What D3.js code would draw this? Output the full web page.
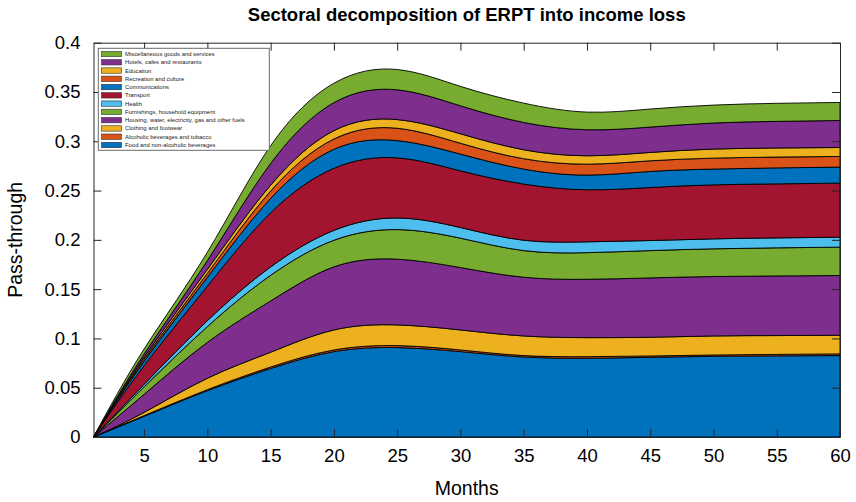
<!DOCTYPE html>
<html>
<head>
<meta charset="utf-8">
<script src="https://cdn.jsdelivr.net/npm/d3@7/dist/d3.min.js"></script>
<style>
  html, body { margin: 0; padding: 0; background: #fff; }
  svg { display: block; font-family: "Liberation Sans", Arial, Helvetica, sans-serif; }
</style>
</head>
<body>
<svg id="chart" width="856" height="502"></svg>
<script>
// ---- data ----
const months = [1, 5, 10, 15, 20, 25, 30, 35, 40, 45, 50, 55, 60];
const sectors = [
  "Food and non-alcoholic beverages",
  "Alcoholic beverages and tobacco",
  "Clothing and footwear",
  "Housing, water, electricity, gas and other fuels",
  "Furnishings, household equipment",
  "Health",
  "Transport",
  "Communications",
  "Recreation and culture",
  "Education",
  "Hotels, cafes and restaurants",
  "Miscellaneous goods and services"
];
const food          = [0, 0.0210, 0.0470, 0.0695, 0.0866, 0.0907, 0.0866, 0.0812, 0.0799, 0.0809, 0.0819, 0.0823, 0.0826];
const alcohol       = [0, 0.0007, 0.0010, 0.0015, 0.0017, 0.0020, 0.0017, 0.0014, 0.0016, 0.0013, 0.0013, 0.0015, 0.0017];
const clothing      = [0, 0.0033, 0.0116, 0.0150, 0.0203, 0.0210, 0.0203, 0.0199, 0.0193, 0.0190, 0.0193, 0.0191, 0.0189];
const housing       = [0, 0.0183, 0.0364, 0.0520, 0.0640, 0.0667, 0.0633, 0.0596, 0.0592, 0.0602, 0.0603, 0.0605, 0.0606];
const furnishings   = [0, 0.0075, 0.0160, 0.0260, 0.0270, 0.0300, 0.0298, 0.0270, 0.0270, 0.0277, 0.0281, 0.0285, 0.0288];
const health        = [0, 0.0026, 0.0060, 0.0085, 0.0100, 0.0118, 0.0108, 0.0105, 0.0110, 0.0102, 0.0101, 0.0101, 0.0101];
const transport     = [0, 0.0190, 0.0350, 0.0550, 0.0630, 0.0610, 0.0575, 0.0570, 0.0528, 0.0538, 0.0548, 0.0548, 0.0548];
const communications= [0, 0.0044, 0.0090, 0.0145, 0.0193, 0.0175, 0.0170, 0.0152, 0.0149, 0.0163, 0.0160, 0.0162, 0.0163];
const recreation    = [0, 0.0022, 0.0040, 0.0075, 0.0104, 0.0125, 0.0110, 0.0105, 0.0111, 0.0108, 0.0111, 0.0110, 0.0108];
const education     = [0, 0.0019, 0.0040, 0.0060, 0.0085, 0.0088, 0.0096, 0.0091, 0.0085, 0.0085, 0.0092, 0.0092, 0.0091];
const hotels        = [0, 0.0033, 0.0090, 0.0220, 0.0284, 0.0302, 0.0284, 0.0277, 0.0264, 0.0257, 0.0264, 0.0270, 0.0274];
const misc          = [0, 0.0051, 0.0085, 0.0180, 0.0197, 0.0206, 0.0197, 0.0196, 0.0179, 0.0183, 0.0182, 0.0183, 0.0183];
const seriesValues = [food, alcohol, clothing, housing, furnishings, health, transport,
                      communications, recreation, education, hotels, misc];
const colors = ["#0072BD", "#D95319", "#EDB120", "#7E2F8E", "#77AC30", "#4DBEEE", "#A2142F",
                "#0072BD", "#D95319", "#EDB120", "#7E2F8E", "#77AC30"];
const xTicks = [5, 10, 15, 20, 25, 30, 35, 40, 45, 50, 55, 60];
const yTicks = [0, 0.05, 0.1, 0.15, 0.2, 0.25, 0.3, 0.35, 0.4];
const yTickLabels = ["0", "0.05", "0.1", "0.15", "0.2", "0.25", "0.3", "0.35", "0.4"];
const titleText = "Sectoral decomposition of ERPT into income loss";
const xLabel = "Months";
const yLabel = "Pass-through";

// ---- layout ----
const L = 93.5, R = 840, T = 42.7, B = 437;
const axisColor = "#262626";
const font = "'Liberation Sans', Arial, Helvetica, sans-serif";

const svg = d3.select("#chart");
const x = d3.scaleLinear().domain([1, 60]).range([L, R]);
const y = d3.scaleLinear().domain([0, 0.4]).range([B, T]);

// table for stack
const table = months.map((m, i) => {
  const row = { month: m };
  sectors.forEach((s, k) => { row[s] = seriesValues[k][i]; });
  return row;
});
const stacked = d3.stack().keys(sectors)(table);

const area = d3.area()
  .x(d => x(d.data.month))
  .y0(d => y(d[0]))
  .y1(d => y(d[1]))
  .curve(d3.curveNatural);

svg.append("g").selectAll("path")
  .data(stacked)
  .join("path")
  .attr("d", area)
  .attr("fill", (d, i) => colors[i])
  .attr("stroke", "#000")
  .attr("stroke-width", 0.9)
  .attr("stroke-linejoin", "round");

// ---- axes box ----
const ax = svg.append("g");
const tickLen = 8;
const xb = ax.append("g").attr("transform", `translate(0,${B})`)
  .call(d3.axisBottom(x).tickValues(xTicks).tickSizeInner(-tickLen).tickSizeOuter(0).tickPadding(12).tickFormat(d3.format("d")));
const xt = ax.append("g").attr("transform", `translate(0,${T})`)
  .call(d3.axisTop(x).tickValues(xTicks).tickSizeInner(-tickLen).tickSizeOuter(0).tickFormat(""));
const yl = ax.append("g").attr("transform", `translate(${L},0)`)
  .call(d3.axisLeft(y).tickValues(yTicks).tickSizeInner(-tickLen).tickSizeOuter(0).tickPadding(13)
    .tickFormat((d, i) => yTickLabels[i]));
const yr = ax.append("g").attr("transform", `translate(${R},0)`)
  .call(d3.axisRight(y).tickValues(yTicks).tickSizeInner(-tickLen).tickSizeOuter(0).tickFormat(""));

[xb, xt, yl, yr].forEach(g => {
  g.selectAll(".domain").attr("stroke", axisColor).attr("stroke-width", 1);
  g.selectAll(".tick line").attr("stroke", axisColor).attr("stroke-width", 1);
  g.selectAll(".tick text").attr("fill", "#000").style("font-family", font).style("font-size", "18.5px");
});
xb.selectAll(".tick text").attr("dy", "0.71em");

// ---- title & labels ----
svg.append("text")
  .attr("x", (L + R) / 2).attr("y", 21)
  .attr("text-anchor", "middle")
  .style("font-family", font).style("font-weight", "bold").style("font-size", "18.5px")
  .attr("fill", "#000")
  .text(titleText);

svg.append("text")
  .attr("x", (L + R) / 2).attr("y", 495)
  .attr("text-anchor", "middle")
  .style("font-family", font).style("font-size", "19.5px")
  .attr("fill", "#000")
  .text(xLabel);

svg.append("text")
  .attr("transform", `translate(22,${(T + B) / 2}) rotate(-90)`)
  .attr("text-anchor", "middle")
  .style("font-family", font).style("font-size", "19.5px")
  .attr("fill", "#000")
  .text(yLabel);

// ---- legend ----
const lg = svg.append("g");
const lgX = 98.3, lgY = 48.3, lgW = 171, lgH = 102;
lg.append("rect")
  .attr("x", lgX).attr("y", lgY).attr("width", lgW).attr("height", lgH)
  .attr("fill", "#fff").attr("stroke", "#6b6b6b").attr("stroke-width", 1);
const order = d3.range(sectors.length).reverse();
const rowH = 8.27;
order.forEach((k, j) => {
  const cy = 54 + j * rowH;
  lg.append("rect")
    .attr("x", 101.5).attr("y", cy - 2.7).attr("width", 20).attr("height", 5.4)
    .attr("fill", colors[k]).attr("stroke", "#333").attr("stroke-width", 0.6);
  lg.append("text")
    .attr("x", 125).attr("y", cy).attr("dy", "0.35em")
    .style("font-family", font).style("font-size", "5.9px")
    .attr("fill", "#222")
    .text(sectors[k]);
});
</script>
</body>
</html>
